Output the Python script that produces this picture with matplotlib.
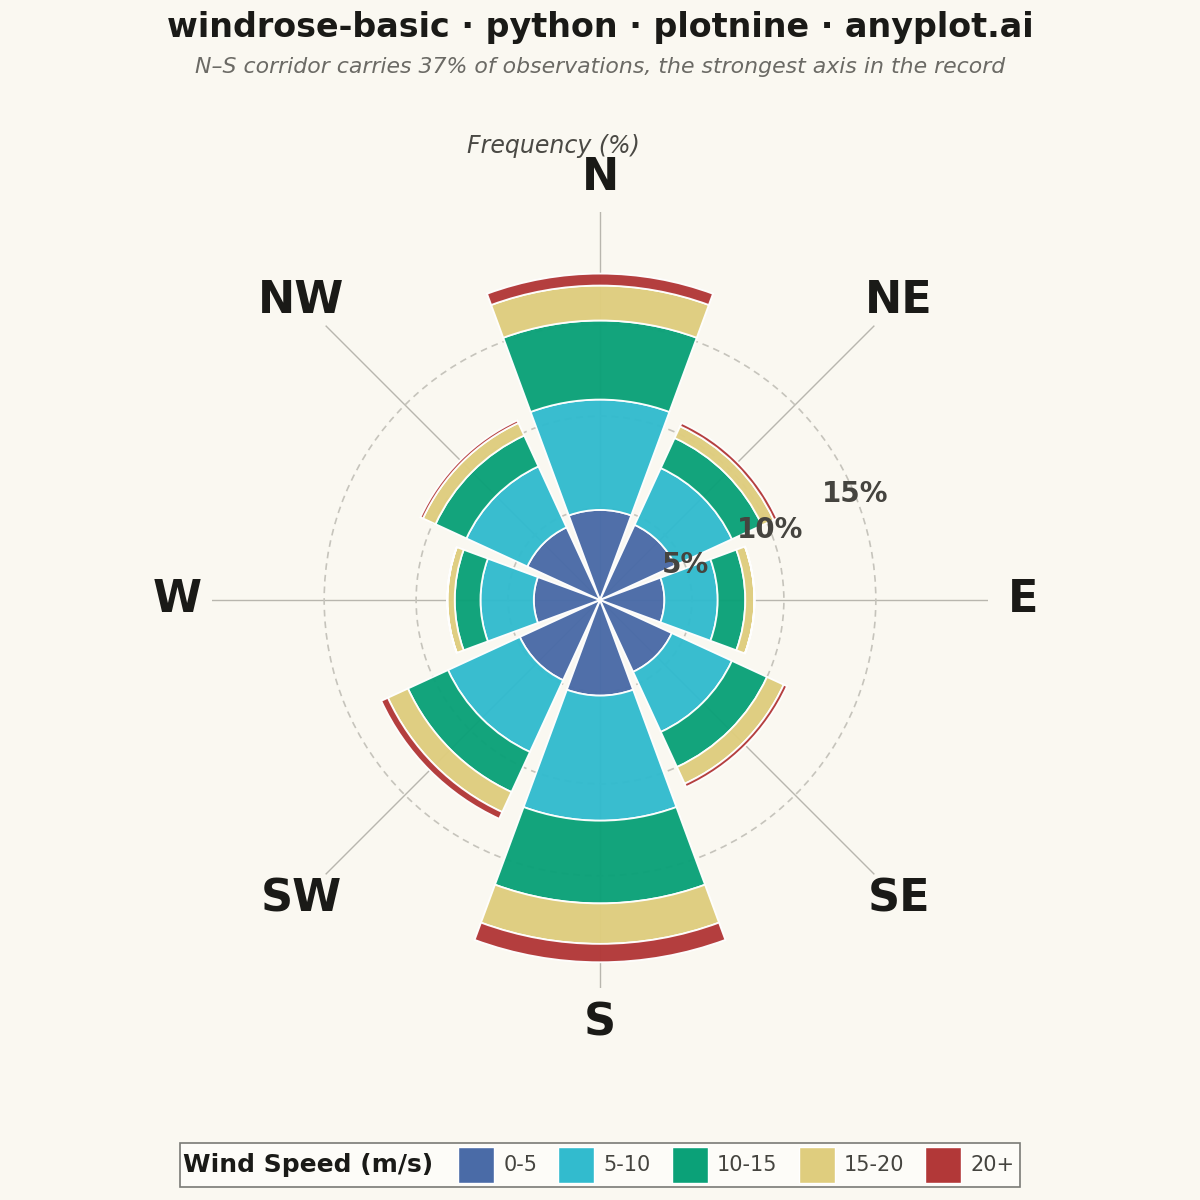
import numpy as np
import matplotlib
matplotlib.use("Agg")
import matplotlib.pyplot as plt
from matplotlib.patches import Patch, Rectangle

# Frequencies (%) per direction and wind speed bin
directions = ['N', 'NE', 'E', 'SE', 'S', 'SW', 'W', 'NW']
angles_deg = [0, 45, 90, 135, 180, 225, 270, 315]
speed_0_5 = [4.9, 4.5, 3.5, 4.3, 5.2, 4.8, 3.6, 4.35]
speed_5_10 = [6.0, 3.4, 2.9, 3.6, 6.8, 4.3, 2.9, 3.65]
speed_10_15 = [4.3, 1.8, 1.5, 2.1, 4.5, 2.4, 1.4, 1.85]
speed_15_20 = [1.9, 0.7, 0.5, 1.0, 2.2, 1.2, 0.4, 0.75]
speed_20_plus = [0.65, 0.2, 0.0, 0.2, 1.0, 0.4, 0.0, 0.15]

speed_labels = ['0-5', '5-10', '10-15', '15-20', '20+']
speed_colors = ['#4A6BA7', '#32BBCE', '#0BA178', '#DFCD7E', '#B23838']
ring_values = [5, 10, 15]

BG = '#FAF8F1'
INK = '#1A1A17'

fig = plt.figure(figsize=(12, 12), dpi=100)
fig.set_facecolor(BG)

ax = fig.add_axes([212 / 1200, 212 / 1200, 776 / 1200, 776 / 1200], projection='polar')
ax.set_facecolor(BG)
ax.set_theta_zero_location('N')
ax.set_theta_direction(-1)

theta = np.deg2rad(angles_deg)
width = 0.9 * 2 * np.pi / len(directions)

# stacked wedges
bottom = np.zeros(len(directions))
series = [speed_0_5, speed_5_10, speed_10_15, speed_15_20, speed_20_plus]
for vals, color in zip(series, speed_colors):
    vals = np.array(vals)
    ax.bar(theta, vals, width=width, bottom=bottom, color=color, alpha=0.97,
           edgecolor='white', linewidth=1.3, zorder=3)
    bottom += vals

# grid: dashed rings and solid spokes
ax.set_ylim(0, 21.1)
ax.set_rgrids(ring_values, labels=[''] * len(ring_values))
ax.set_thetagrids(angles_deg, labels=[''] * len(angles_deg))
ax.yaxis.grid(True, linestyle=(0, (4, 3)), color='#C6C4BC', linewidth=1.2)
ax.xaxis.grid(True, linestyle='-', color='#B8B6AE', linewidth=1.0)
ax.set_axisbelow(True)
ax.spines['polar'].set_visible(False)

# direction labels
for ang, d in zip(theta, directions):
    ax.text(ang, 23.0, d, ha='center', va='center', fontsize=32,
            fontweight='bold', color=INK)

# ring labels
for r in ring_values:
    ax.text(np.deg2rad(67.5), r, f'{r}%', ha='center', va='center', fontsize=20,
            fontweight='bold', color='#45443F', zorder=5)

# titles
fig.text(0.5, 1 - 27 / 1200, 'windrose-basic · python · plotnine · anyplot.ai',
         ha='center', va='center', fontsize=24, fontweight='bold', color=INK)
fig.text(0.5, 1 - 67 / 1200,
         'N\u2013S corridor carries 37% of observations, the strongest axis in the record',
         ha='center', va='center', fontsize=15.8, style='italic', color='#6B6A65')
fig.text(553 / 1200, 1 - 146 / 1200, 'Frequency (%)', ha='center', va='center',
         fontsize=17, style='italic', color='#4A4944')

# legend, title on the left inside one frame
frame = Rectangle((180 / 1200, 1 - 1187 / 1200), 840 / 1200, 44 / 1200,
                  transform=fig.transFigure, facecolor='#FDFCF8', edgecolor='#7A7A76',
                  linewidth=1.2, zorder=1)
fig.add_artist(frame)
fig.text(183 / 1200, 1 - 1165 / 1200, 'Wind Speed (m/s)', ha='left', va='center',
         fontsize=18, fontweight='bold', color=INK)
handles = [Patch(facecolor=c, edgecolor='white', linewidth=1.0) for c in speed_colors]
leg = fig.legend(handles, speed_labels, ncol=5, loc='center left',
                 bbox_to_anchor=(458 / 1200, 1 - 1165 / 1200), frameon=False,
                 fontsize=15, handlelength=1.73, handleheight=2.29,
                 handletextpad=0.45, columnspacing=1.0, borderpad=0, borderaxespad=0)
for t in leg.get_texts():
    t.set_color('#45443F')

fig.savefig('out.png', dpi=100, facecolor=BG)
